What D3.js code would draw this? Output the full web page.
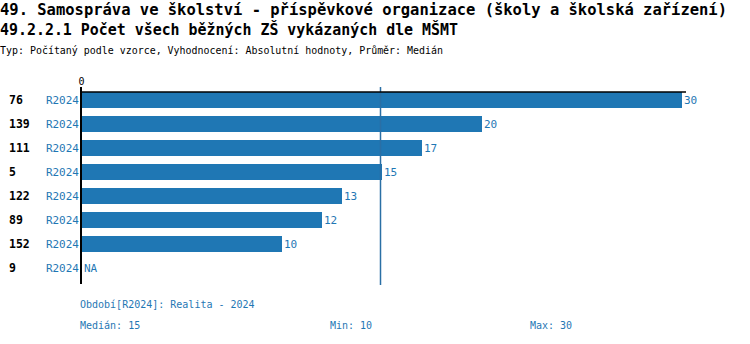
<!DOCTYPE html>
<html>
<head>
<meta charset="utf-8">
<script src="https://cdn.jsdelivr.net/npm/d3@7"></script>
<style>
  html, body { margin: 0; padding: 0; background: #fff; }
  svg { display: block; }
  text { font-family: "DejaVu Sans Mono", "Liberation Mono", monospace; }
</style>
</head>
<body>
<svg id="chart" width="750" height="344"></svg>
<script>
// Organisation identifiers (rows, top to bottom)
const ids = ["76", "139", "111", "5", "122", "89", "152", "9"];
// Period label for each row
const periods = ["R2024", "R2024", "R2024", "R2024", "R2024", "R2024", "R2024", "R2024"];
// Number of schools per organisation (null = not available)
const values = [30, 20, 17, 15, 13, 12, 10, null];
// Axis tick values
const tickValues = [0];

const titleLine1 = "49. Samospráva ve školství - příspěvkové organizace (školy a školská zařízení)";
const titleLine2 = "49.2.2.1 Počet všech běžných ZŠ vykázaných dle MŠMT";
const subtitle = "Typ: Počítaný podle vzorce, Vyhodnocení: Absolutní hodnoty, Průměr: Medián";
const periodNote = "Období[R2024]: Realita - 2024";

const blue = "#1f77b4";
const svg = d3.select("#chart");

const present = values.filter(v => v !== null);
const median = d3.median(present);
const minV = d3.min(present);
const maxV = d3.max(present);

const x = d3.scaleLinear().domain([0, 30]).range([82, 682]);
const y = d3.scaleBand().domain(ids).range([88, 280]).paddingInner(1 / 3).paddingOuter(1 / 6);

// Titles
svg.append("text").attr("x", 0).attr("y", 15)
  .attr("font-size", 15).attr("font-weight", "bold").attr("fill", "#000")
  .attr("textLength", 727).attr("lengthAdjust", "spacingAndGlyphs")
  .text(titleLine1);
svg.append("text").attr("x", 0).attr("y", 35)
  .attr("font-size", 15).attr("font-weight", "bold").attr("fill", "#000")
  .attr("textLength", 458).attr("lengthAdjust", "spacingAndGlyphs")
  .text(titleLine2);
svg.append("text").attr("x", 0).attr("y", 54)
  .attr("font-size", 10).attr("fill", "#000")
  .attr("textLength", 443).attr("lengthAdjust", "spacingAndGlyphs")
  .text(subtitle);

// Bars
const rows = ids.map((id, i) => ({ id, period: periods[i], value: values[i] }));

svg.append("g").selectAll("rect")
  .data(rows.filter(d => d.value !== null))
  .join("rect")
  .attr("x", x(0))
  .attr("y", d => y(d.id))
  .attr("width", d => x(d.value) - x(0))
  .attr("height", y.bandwidth())
  .attr("fill", blue);

// Value labels
svg.append("g").selectAll("text")
  .data(rows)
  .join("text")
  .attr("x", d => (d.value === null ? x(0) : x(d.value)) + 2)
  .attr("y", d => y(d.id) + y.bandwidth() / 2)
  .attr("dy", "0.35em")
  .attr("font-size", 11)
  .attr("fill", blue)
  .text(d => d.value === null ? "NA" : d.value);

// Row labels: identifier and period
svg.append("g").selectAll("text")
  .data(rows)
  .join("text")
  .attr("x", 9)
  .attr("y", d => y(d.id) + y.bandwidth() / 2)
  .attr("dy", "0.35em")
  .attr("font-size", 11.5)
  .attr("font-weight", "bold")
  .attr("fill", "#000")
  .text(d => d.id);

svg.append("g").selectAll("text")
  .data(rows)
  .join("text")
  .attr("x", 79)
  .attr("y", d => y(d.id) + y.bandwidth() / 2)
  .attr("dy", "0.35em")
  .attr("text-anchor", "end")
  .attr("font-size", 11)
  .attr("fill", blue)
  .text(d => d.period);

// Median line
svg.append("line")
  .attr("x1", x(median) - 1.5).attr("x2", x(median) - 1.5)
  .attr("y1", 87).attr("y2", 285)
  .attr("stroke", "#2a6fa5").attr("stroke-width", 1.5);

// Top axis
const axis = d3.axisTop(x).tickValues(tickValues).tickSize(0).tickPadding(7)
  .tickFormat(d3.format("d"));
const gAxis = svg.append("g").attr("transform", "translate(0,92)").call(axis);
gAxis.select(".domain").attr("stroke", "#000").attr("stroke-width", 1.5)
  .attr("d", `M${x(0) - 2},0H686`);
gAxis.selectAll(".tick text")
  .attr("font-family", "DejaVu Sans Mono, monospace")
  .attr("font-size", 10).attr("fill", "#000")
  .attr("x", -1);

// Left vertical axis line
svg.append("line")
  .attr("x1", 81).attr("x2", 81)
  .attr("y1", 87).attr("y2", 284)
  .attr("stroke", "#000").attr("stroke-width", 2);

// Footer notes
svg.append("text").attr("x", 80).attr("y", 308)
  .attr("font-size", 10).attr("fill", blue)
  .text(periodNote);
svg.append("text").attr("x", 80).attr("y", 329)
  .attr("font-size", 10).attr("fill", blue)
  .text("Medián: " + median);
svg.append("text").attr("x", 330).attr("y", 329)
  .attr("font-size", 10).attr("fill", blue)
  .text("Min: " + minV);
svg.append("text").attr("x", 530).attr("y", 329)
  .attr("font-size", 10).attr("fill", blue)
  .text("Max: " + maxV);
</script>
</body>
</html>
